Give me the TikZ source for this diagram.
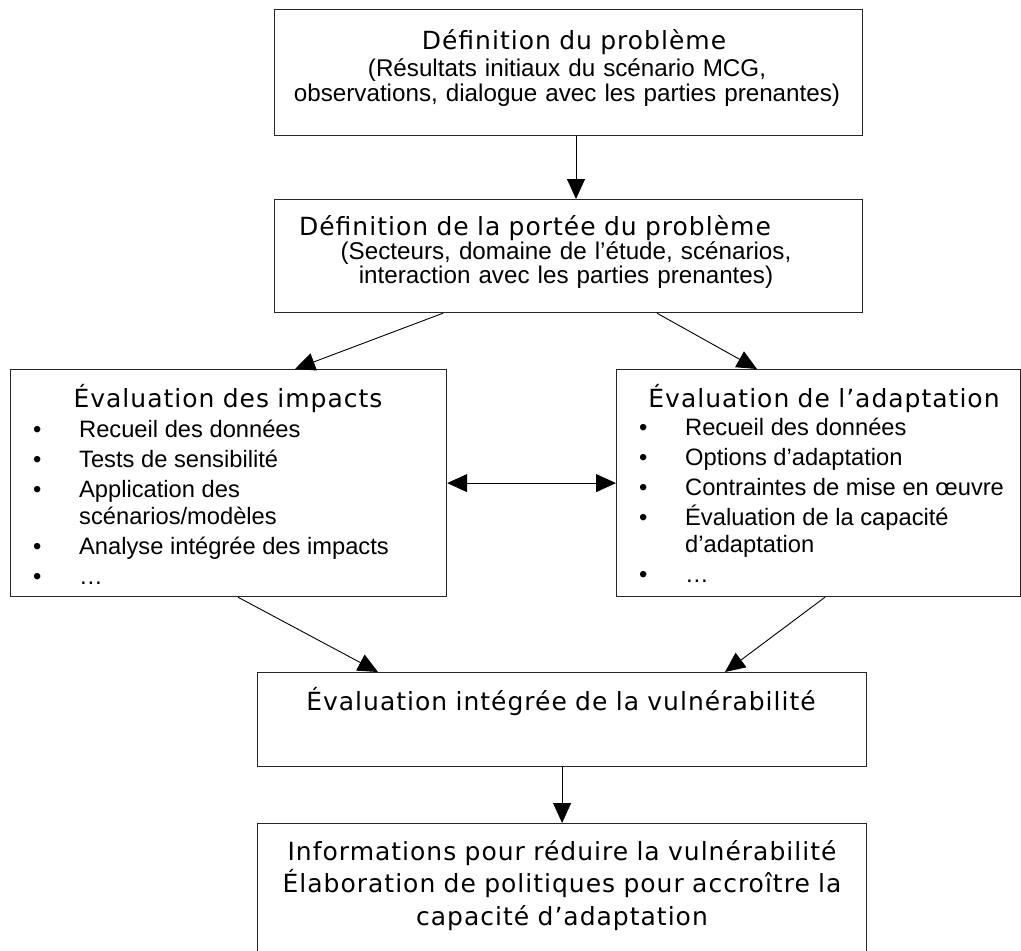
\documentclass[tikz,border=0pt]{standalone}
\usepackage{fontspec}
\setmainfont{Liberation Sans}
\newfontfamily\titrefont{DejaVu Sans}[LetterSpace=4]
\usetikzlibrary{arrows.meta, positioning}

\newcommand{\puce}{\hbox to 46pt{•\hfil}}

\tikzset{
  cadre/.style={draw=black!85, line width=1.2pt, rectangle, anchor=north west, inner sep=0pt},
  fleche/.style={-{Triangle[length=20pt,width=18pt]}, line width=0.9pt},
  doublefleche/.style={{Triangle[length=20pt,width=18pt]}-{Triangle[length=20pt,width=18pt]}, line width=0.9pt},
  serre/.style={execute at begin node={\lineskiplimit=-30pt\relax}},
  titre/.style={serre, font=\titrefont\fontsize{25}{32.5}\selectfont, anchor=base, inner sep=0pt, align=center, text width=640pt},
  corps/.style={serre, font=\fontsize{24.2}{25}\selectfont, anchor=base, inner sep=0pt, align=center, text width=640pt},
  liste/.style={font=\fontsize{23.7}{27}\selectfont, anchor=base west, inner sep=0pt}
}

\begin{document}
\begin{tikzpicture}[x=1pt, y=-1pt]
  \useasboundingbox (0,0) rectangle (1021,951);

  % les cadres
  \node[cadre, minimum width=588pt, minimum height=126pt] (probleme) at (274,9) {};
  \node[cadre, minimum width=588pt, minimum height=113pt] (portee) at (274,199) {};
  \node[cadre, minimum width=436pt, minimum height=227pt] (impacts) at (10,369) {};
  \node[cadre, minimum width=404pt, minimum height=227pt] (adaptation) at (616,369) {};
  \node[cadre, minimum width=609pt, minimum height=94pt] (vulnerabilite) at (257,672) {};
  \node[cadre, minimum width=609pt, minimum height=140pt] (informations) at (257,823) {};

  % Definition du probleme
  \node[titre] (titreProbleme) at (574,49) {Définition du problème};
  \node[corps] (texteProbleme) at (567,76) {(Résultats initiaux du scénario MCG,\\observations, dialogue avec les parties prenantes)};

  % portee
  \node[titre] (titrePortee) at (535,235) {Définition de la portée du problème};
  \node[corps, font=\fontsize{24.2}{24}\selectfont] (textePortee) at (566,259) {(Secteurs, domaine de l’étude, scénarios,\\interaction avec les parties prenantes)};

  % evaluations
  \node[titre] (titreImpacts) at (228,407) {Évaluation des impacts};
  \node[liste] (listeImpacts) at (33,437) {\begin{tabular}[t]{@{}l@{}l@{}}
    \puce & Recueil des données\\[3pt]
    \puce & Tests de sensibilité\\[3pt]
    \puce & Application des\\
          & scénarios/modèles\\[3pt]
    \puce & Analyse intégrée des impacts\\[3pt]
    \puce & …
  \end{tabular}};

  \node[titre] (titreAdaptation) at (824,407) {Évaluation de l’adaptation};
  \node[liste] (listeAdaptation) at (639,435) {\begin{tabular}[t]{@{}l@{}l@{}}
    \puce & Recueil des données\\[3pt]
    \puce & Options d’adaptation\\[3pt]
    \puce & Contraintes de mise en œuvre\\[3pt]
    \puce & \smash{É}valuation de la capacité\\
          & d’adaptation\\[3pt]
    \puce & …
  \end{tabular}};

  % vulnerabilite
  \node[titre] (titreVulnerabilite) at (561,710) {Évaluation intégrée de la vulnérabilité};
  \node[titre] (texteInformations) at (562,860) {Informations pour réduire la vulnérabilité\\Élaboration de politiques pour accroître la\\capacité d’adaptation};

  % fleches
  \draw[fleche] ([xshift=302pt]probleme.south west) -- ([xshift=302pt]portee.north west);
  \draw[fleche] ([xshift=169pt]portee.south west) -- ([xshift=285pt]impacts.north west);
  \draw[fleche] ([xshift=383pt]portee.south west) -- ([xshift=141pt]adaptation.north west);
  \draw[doublefleche] (impacts.east) -- (adaptation.west);
  \draw[fleche] ([xshift=228pt]impacts.south west) -- ([xshift=121pt]vulnerabilite.north west);
  \draw[fleche] ([xshift=209pt]adaptation.south west) -- ([xshift=468pt]vulnerabilite.north west);
  \draw[fleche] (vulnerabilite.south) -- (informations.north);
\end{tikzpicture}
\end{document}
